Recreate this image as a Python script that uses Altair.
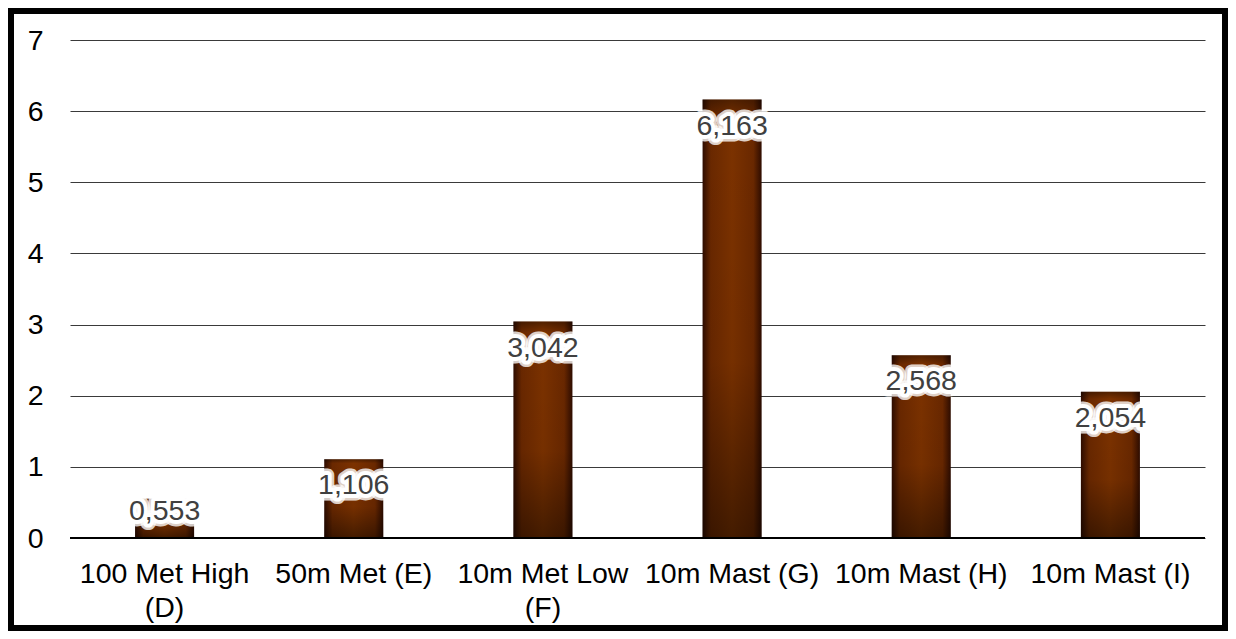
import altair as alt
import pandas as pd

categories = ["100 Met High (D)", "50m Met (E)", "10m Met Low (F)",
              "10m Mast (G)", "10m Mast (H)", "10m Mast (I)"]
values = [0.553, 1.106, 3.042, 6.163, 2.568, 2.054]
wrapped = [["100 Met High", "(D)"], ["50m Met (E)"], ["10m Met Low", "(F)"],
           ["10m Mast (G)"], ["10m Mast (H)"], ["10m Mast (I)"]]
y_ticks = [0, 1, 2, 3, 4, 5, 6, 7]

W, H = 1135, 498
PAD = {"left": 62, "top": 32, "right": 23, "bottom": 93}
FONT = "Liberation Sans"
FS = 28.5

df = pd.DataFrame({"cat": categories, "value": values})

# label expression for wrapped category names
expr = "datum.label"
for cat, parts in zip(categories, wrapped):
    if len(parts) > 1:
        arr = "[" + ", ".join("'" + p + "'" for p in parts) + "]"
        expr = f"datum.label == '{cat}' ? {arr} : (" + expr + ")"

x_enc = alt.X(
    "cat:N", sort=categories, title=None,
    scale=alt.Scale(paddingInner=0.688, paddingOuter=0.344),
    axis=alt.Axis(labelAngle=0, labelFontSize=FS, labelFont=FONT, labelColor="#000000",
                  labelPadding=21, labelBaseline="top", labelLineHeight=34,
                  ticks=False, domain=False, grid=False, labelLimit=400,
                  labelOverlap=False, labelExpr=expr),
)
x_plain = alt.X("cat:N", sort=categories)
y_enc = alt.Y(
    "value:Q", title=None,
    scale=alt.Scale(domain=[0, 7], nice=False, zero=True),
    axis=alt.Axis(values=y_ticks, format="d", labelFontSize=FS, labelFont=FONT,
                  labelColor="#000000", labelPadding=27, ticks=False, domain=False,
                  grid=True, gridColor="#3a3a3a", gridWidth=1),
)

base = alt.Chart(df)

h_grad = alt.Gradient(
    gradient="linear", x1=0, x2=1, y1=0, y2=0,
    stops=[
        alt.GradientStop(color="#2e0c00", offset=0),
        alt.GradientStop(color="#6a2800", offset=0.14),
        alt.GradientStop(color="#7c3200", offset=0.5),
        alt.GradientStop(color="#6a2800", offset=0.86),
        alt.GradientStop(color="#2e0c00", offset=1),
    ],
)
v_grad = alt.Gradient(
    gradient="linear", x1=0, x2=0, y1=0, y2=1,
    stops=[
        alt.GradientStop(color="rgba(0,0,0,0.35)", offset=0),
        alt.GradientStop(color="rgba(0,0,0,0)", offset=0.05),
        alt.GradientStop(color="rgba(0,0,0,0.05)", offset=0.6),
        alt.GradientStop(color="rgba(0,0,0,0.45)", offset=1),
    ],
)

bars = base.mark_bar(fill=h_grad).encode(x=x_enc, y=y_enc)
shade = base.mark_bar(fill=v_grad).encode(x=x_plain, y="value:Q")

baseline = alt.Chart(pd.DataFrame({"z": [0]})).mark_rule(
    color="#000000", strokeWidth=2).encode(y="z:Q")

lab = base.transform_calculate(
    ly="max(datum.value - 0.366, 0.38)",
    txt="replace(format(datum.value, '.3f'), '.', ',')",
)
halo_wide = lab.mark_text(fontSize=FS, font=FONT, fill="white", stroke="white",
                          strokeWidth=13, strokeOpacity=0.8, strokeJoin="round",
                          baseline="middle").encode(x=x_plain, y="ly:Q", text="txt:N")
halo = lab.mark_text(fontSize=FS, font=FONT, fill="white", stroke="white",
                     strokeWidth=8, strokeOpacity=1, strokeJoin="round",
                     baseline="middle").encode(x=x_plain, y="ly:Q", text="txt:N")
text = lab.mark_text(fontSize=FS, font=FONT, fill="#404040",
                     baseline="middle").encode(x=x_plain, y="ly:Q", text="txt:N")

border = alt.Chart(pd.DataFrame({"a": [0]})).mark_rect(
    fillOpacity=0, stroke="#000000", strokeWidth=12).encode(
    x=alt.value(-PAD["left"]), x2=alt.value(W + PAD["right"]),
    y=alt.value(-PAD["top"]), y2=alt.value(H + PAD["bottom"]))

chart = alt.layer(bars, shade, baseline, halo_wide, halo, text, border).properties(
    width=W, height=H, padding=PAD,
    autosize=alt.AutoSizeParams(type="none"),
    background="white",
).configure_view(stroke=None)

chart.save("out.html", embed_options={"renderer": "svg", "actions": False})
